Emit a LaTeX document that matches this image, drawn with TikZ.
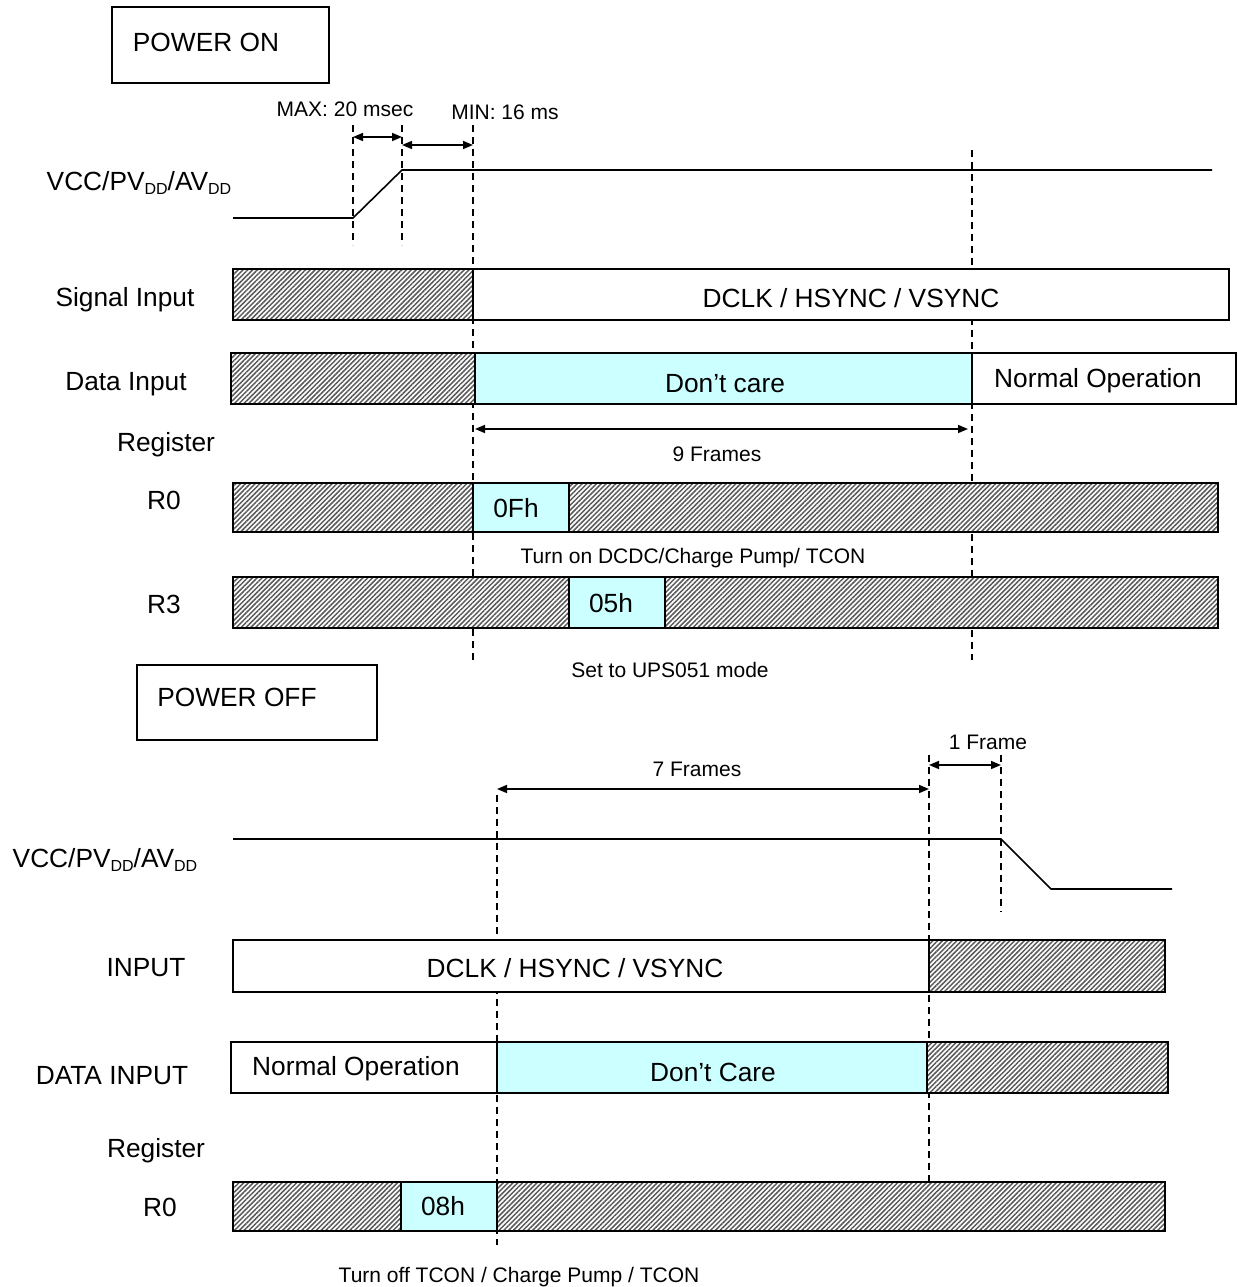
\documentclass[tikz,border=0pt]{standalone}
\usepackage{fontspec}
\setmainfont{Liberation Sans}
\usetikzlibrary{patterns.meta,arrows.meta}
\definecolor{lcyan}{RGB}{204,255,255}
\newcommand{\subDD}{\raisebox{-4.5pt}{\fontsize{16}{18}\selectfont DD}}
\tikzset{
  sig/.style={line width=1.6pt},
  frame/.style={draw, line width=1.4pt},
  wbox/.style={draw, line width=1.8pt, fill=white},
  hatch/.style={draw, line width=1.8pt, preaction={fill=white},
     pattern={Lines[angle=45,distance=3.4pt,line width=1.5pt]}, pattern color=black!65},
  cy/.style={draw, line width=1.8pt, fill=lcyan},
  guide/.style={line width=1.4pt, dash pattern=on 7pt off 5pt},
  dim/.style={line width=1.6pt, {Triangle[length=10pt,width=8pt]}-{Triangle[length=10pt,width=8pt]}},
  big/.style={font=\fontsize{26.3}{30}\selectfont, inner sep=0pt, anchor=base},
  small/.style={font=\fontsize{21}{25}\selectfont, inner sep=0pt, anchor=base},
}
\begin{document}
\begin{tikzpicture}[x=1pt,y=-1pt]
\useasboundingbox (0,0) rectangle (1237,1287);

% ---------- POWER ON ----------
% guide lines
\coordinate (a1t) at (353,125); \coordinate (a1b) at (353,245);
\coordinate (a2t) at (402,125); \coordinate (a2b) at (402,245);
\coordinate (a3t) at (473,125); \coordinate (a3b) at (473,660);
\coordinate (a4t) at (972,150); \coordinate (a4b) at (972,660);
\draw[guide] (a1t) -- (a1b);
\draw[guide] (a2t) -- (a2b);
\draw[guide] (a3t) -- (a3b);
\draw[guide] (a4t) -- (a4b);

\draw[frame] (112,7) rectangle (329,83);
\node[big] (pon) at (206,52) {POWER ON};

\node[small] (maxl) at (345,117) {MAX: 20 msec};
\node[small] (minl) at (505,120) {MIN: 16 ms};
\coordinate (m1) at (353,137); \coordinate (m2) at (402,137);
\coordinate (n1) at (402,145); \coordinate (n2) at (473,145);
\draw[dim] (m1) -- (m2);
\draw[dim] (n1) -- (n2);

\node[big] (vcc1) at (139,190) {VCC/PV\subDD/AV\subDD};
\coordinate (v0) at (233,218); \coordinate (v1) at (353,218);
\coordinate (v2) at (402,170); \coordinate (v3) at (1212,170);
\draw[sig] (v0) -- (v1) -- (v2) -- (v3);

\node[big] (sigl) at (125,306) {Signal Input};
\draw[hatch] (233,269) rectangle (473,320);
\draw[wbox] (473,269) rectangle (1229,320);
\node[big] (sigt) at (851,307) {DCLK / HSYNC / VSYNC};

\node[big] (datl) at (126,390) {Data Input};
\draw[hatch] (231,353) rectangle (475,404);
\draw[cy] (475,353) rectangle (972,404);
\draw[wbox] (972,353) rectangle (1236,404);
\node[big] (dc1) at (725,392) {Don’t care};
\node[big] (no1) at (1098,387) {Normal Operation};

\node[big] (reg1) at (166,451) {Register};
\coordinate (f9a) at (475,429); \coordinate (f9b) at (968,429);
\draw[dim] (f9a) -- (f9b);
\node[small] (f9) at (717,461) {9 Frames};

\node[big] (r0l) at (164,509) {R0};
\draw[hatch] (233,483) rectangle (1218,532);
\draw[cy] (473,483) rectangle (569,532);
\node[big] (r0v) at (516,517) {0Fh};
\node[small] (ton) at (693,563) {Turn on DCDC/Charge Pump/ TCON};

\node[big] (r3l) at (164,613) {R3};
\draw[hatch] (233,577) rectangle (1218,628);
\draw[cy] (569,577) rectangle (665,628);
\node[big] (r3v) at (611,612) {05h};
\node[small] (ups) at (670,677) {Set to UPS051 mode};

% ---------- POWER OFF ----------
\coordinate (b1t) at (497,795); \coordinate (b1b) at (497,1245);
\coordinate (b2t) at (929,755); \coordinate (b2b) at (929,1215);
\coordinate (b3t) at (1001,755); \coordinate (b3b) at (1001,912);
\draw[guide] (b1t) -- (b1b);
\draw[guide] (b2t) -- (b2b);
\draw[guide] (b3t) -- (b3b);

\draw[frame] (137,665) rectangle (377,740);
\node[big] (poff) at (237,706) {POWER OFF};

\node[small] (f1) at (988,749) {1 Frame};
\coordinate (f1a) at (929,765); \coordinate (f1b) at (1001,765);
\draw[dim] (f1a) -- (f1b);
\node[small] (f7) at (697,776) {7 Frames};
\coordinate (f7a) at (497,789); \coordinate (f7b) at (929,789);
\draw[dim] (f7a) -- (f7b);

\node[big] (vcc2) at (105,867) {VCC/PV\subDD/AV\subDD};
\coordinate (w0) at (233,839); \coordinate (w1) at (1001,839);
\coordinate (w2) at (1051,889); \coordinate (w3) at (1172,889);
\draw[sig] (w0) -- (w1) -- (w2) -- (w3);

\node[big] (inl) at (146,976) {INPUT};
\draw[wbox] (233,940) rectangle (929,992);
\draw[hatch] (929,940) rectangle (1165,992);
\node[big] (int) at (575,977) {DCLK / HSYNC / VSYNC};

\node[big] (dil) at (112,1084) {DATA INPUT};
\draw[wbox] (231,1042) rectangle (497,1093);
\draw[cy] (497,1042) rectangle (927,1093);
\draw[hatch] (927,1042) rectangle (1168,1093);
\node[big] (no2) at (356,1075) {Normal Operation};
\node[big] (dc2) at (713,1081) {Don’t Care};

\node[big] (reg2) at (156,1157) {Register};
\node[big] (r0l2) at (160,1216) {R0};
\draw[hatch] (233,1182) rectangle (1165,1231);
\draw[cy] (401,1182) rectangle (497,1231);
\node[big] (r0v2) at (443,1215) {08h};
\node[small] (toff) at (519,1282) {Turn off TCON / Charge Pump / TCON};
\end{tikzpicture}
\end{document}
